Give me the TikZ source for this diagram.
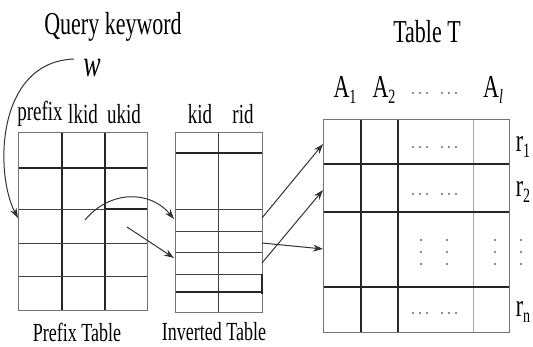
\documentclass[tikz,border=0pt]{standalone}
\usepackage{fontspec}
\usepackage{graphicx}
\setmainfont{Liberation Serif}
\usetikzlibrary{arrows.meta}
\newcommand\vst[1]{\scalebox{1}[1.45]{#1}}
\newcommand\subs[1]{\raisebox{-0.45ex}{\fontsize{14}{14}\selectfont #1}}
\begin{document}
\begin{tikzpicture}[x=1pt,y=-1pt,
  thinl/.style={line width=0.9pt, black!75},
  medl/.style={line width=1.4pt, black!85},
  thickl/.style={line width=2.4pt, black!85},
  lightl/.style={line width=0.8pt, black!35},
  border/.style={line width=1pt, black!55},
  arr/.style={-{Stealth[length=10pt,width=7pt]}, line width=1pt, black!80},
  big/.style={inner sep=0pt, font=\fontsize{22}{24}\selectfont},
  hdr/.style={inner sep=0pt, font=\fontsize{19}{21}\selectfont},
  captxt/.style={inner sep=0pt, font=\fontsize{18}{20}\selectfont},
  dotc/.style={fill=black!60, draw=none}]
\useasboundingbox (0,0) rectangle (533,347);

% ---------- Prefix table ----------
\draw[medl] (62,133) -- (62,311) (105,133) -- (105,311);
\draw[thinl] (18,243) -- (147,243) (18,276) -- (147,276) (18,209) -- (105,209);
\draw[thickl] (18,168) -- (147,168);
\draw[thickl] (105,209) -- (147,209);
\draw[border] (18,133) rectangle (147,311);

% ---------- Inverted table ----------
\draw[thinl] (218,133) -- (218,313);
\draw[medl] (175,153) -- (262,153);
\draw[thinl] (175,209) -- (262,209) (175,231) -- (262,231) (175,252) -- (262,252) (175,274) -- (262,274);
\draw[thickl] (175,292) -- (262,292);
\draw[border] (175,133) rectangle (262,313);
\draw[medl] (262,274) -- (262,294);

% ---------- Table T ----------
\draw[thickl] (361,120) -- (361,333);
\draw[medl] (398,120) -- (398,333);
\draw[lightl] (473,120) -- (473,333);
\draw[thickl] (323,164) -- (509,164);
\draw[medl] (323,212) -- (509,212);
\draw[medl] (323,287) -- (509,287);
\draw[thickl] (323,287) -- (361,287);
\draw[border] (323,120) rectangle (509,333);

% horizontal dot groups
\foreach \yy in {93,147,194,313}{
  \foreach \xx in {413,420,427,442,449,456}{
    \fill[dotc] (\xx,\yy) circle (1.2pt);
  }
}
% vertical dots
\foreach \xx in {421,447,495,521}{
  \foreach \yy in {240,252,264}{
    \fill[dotc] (\xx,\yy) circle (1.2pt);
  }
}

% ---------- Texts ----------
\node[big] (qk) at (113,27) {\vst{Query keyword}};
\node[big, font=\fontsize{26}{28}\selectfont] (w) at (92,68) {\vst{\itshape w}};
\node[hdr] (hprefix) at (40,114) {\vst{prefix}};
\node[hdr] (hlkid) at (83,114) {\vst{lkid}};
\node[hdr] (hukid) at (124,114) {\vst{ukid}};
\node[hdr] (hkid) at (200,114) {\vst{kid}};
\node[hdr] (hrid) at (243,114) {\vst{rid}};
\node[captxt] (cprefix) at (77,332) {\vst{Prefix Table}};
\node[captxt] (cinv) at (214,332) {\vst{Inverted Table}};
\node[big] (tt) at (427,32) {\vst{Table T}};
\node[big] (a1) at (345,90) {\vst{A\subs{1}}};
\node[big] (a2) at (384,90) {\vst{A\subs{2}}};
\node[big] (al) at (493,90) {\vst{A\subs{\itshape l}}};
\node[big] (r1) at (523,147) {\vst{r\subs{1}}};
\node[big] (r2) at (523,192) {\vst{r\subs{2}}};
\node[big] (rn) at (523,312) {\vst{r\subs{n}}};

% ---------- Arrows ----------
\coordinate (ws) at (74,59);
\coordinate (pin) at (18,218);
\coordinate (p1) at (85,220);
\coordinate (i1) at (174,219);
\coordinate (p2) at (127,227);
\coordinate (i2) at (174,258);
\coordinate (o1) at (262,218);
\coordinate (o2) at (262,263);
\coordinate (o3) at (262,243);
\coordinate (t1) at (323,144);
\coordinate (t2) at (323,190);
\coordinate (t3) at (323,249);

\draw[arr] (ws) .. controls (-5,62) and (-5,175) .. (pin);
\draw[arr] (p1) .. controls (110,190) and (150,190) .. (i1);
\draw[arr] (p2) -- (i2);
\draw[arr] (o1) -- (t1);
\draw[arr] (o2) -- (t2);
\draw[arr] (o3) -- (t3);
\end{tikzpicture}
\end{document}
